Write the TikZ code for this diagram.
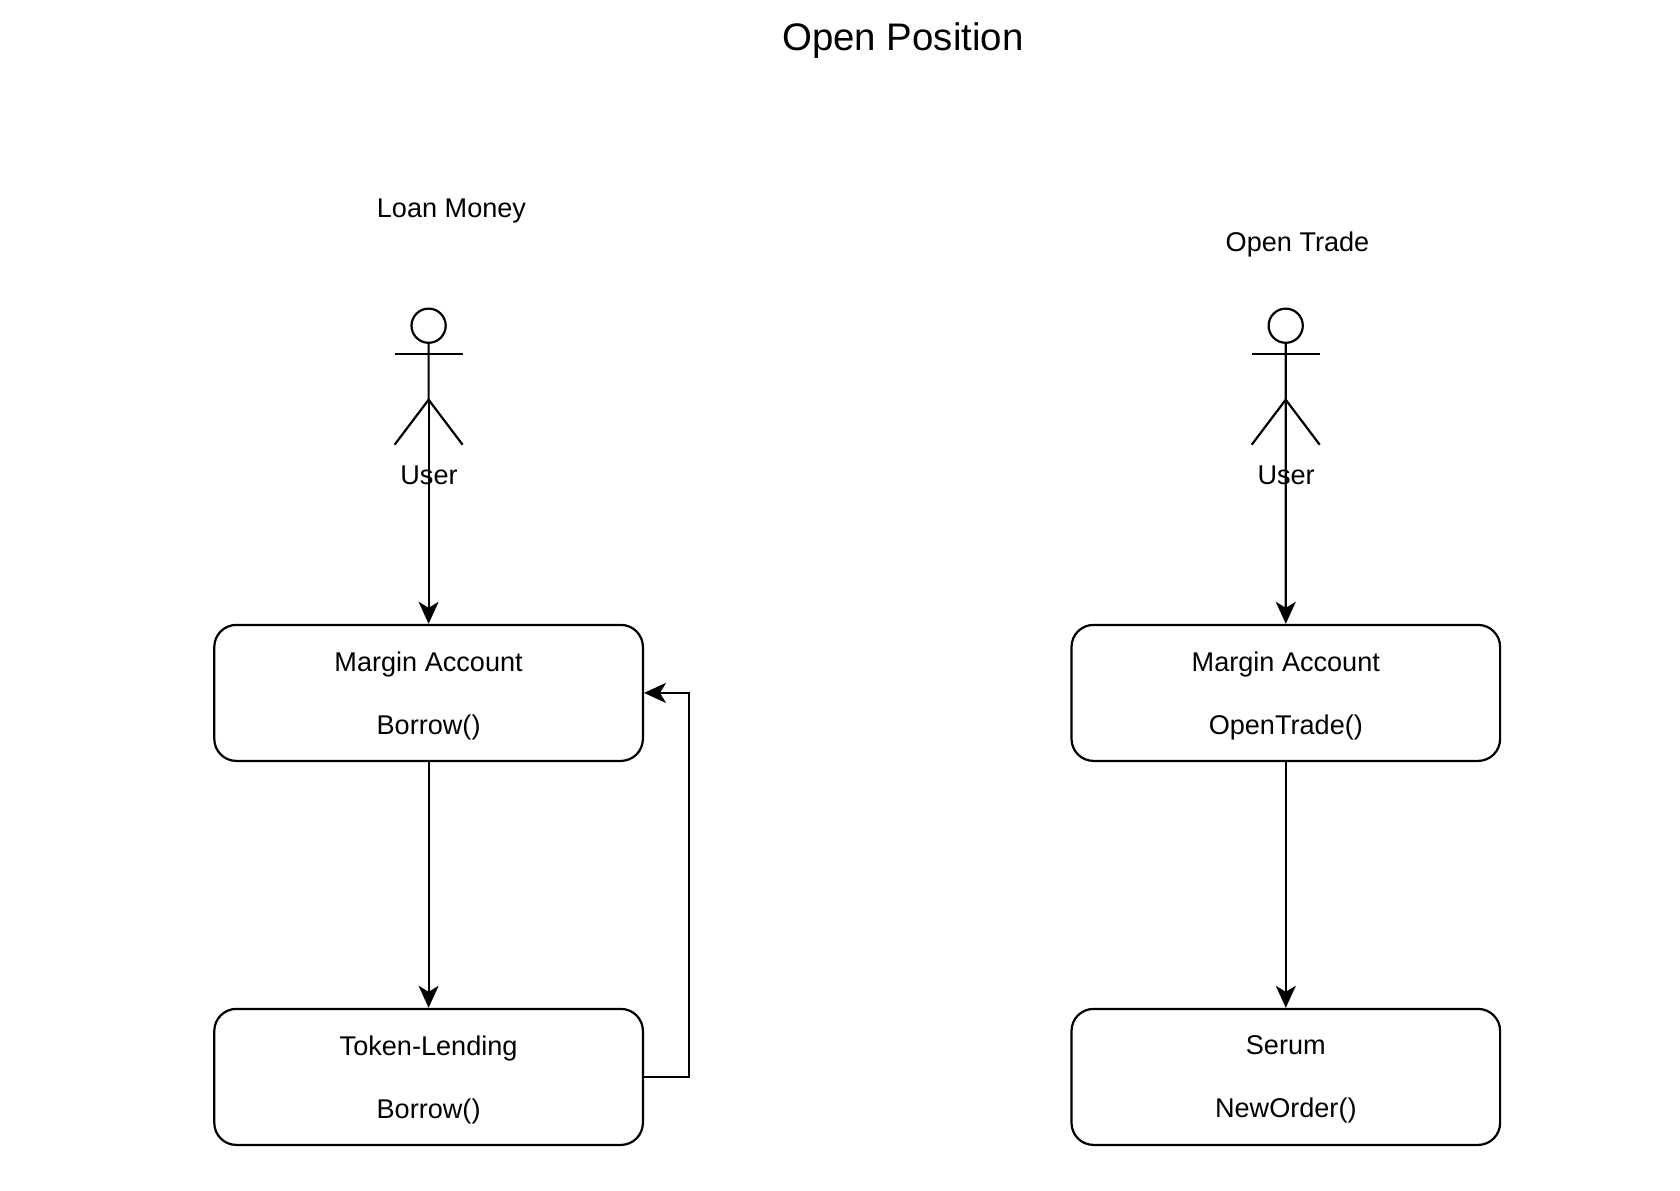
\documentclass[tikz,border=0pt]{standalone}
\usepackage{fontspec}
\setmainfont{Liberation Sans}
\usetikzlibrary{arrows.meta,positioning}

\begin{document}
\begin{tikzpicture}[x=0.5pt, y=-0.5pt, node distance=192pt, auto]
            \tikzstyle{block} = [rectangle, draw, line width=1.1pt, rounded corners=11pt, align=center, text depth=-1.6pt, minimum width=214.3pt, minimum height=68pt, font=\fontsize{13.55pt}{16pt}\selectfont]
            \tikzstyle{caption} = [font=\fontsize{13.55pt}{16pt}\selectfont, inner sep=0pt]
            \tikzstyle{head} = [circle, draw, line width=1.1pt, minimum size=17.1pt, inner sep=0pt]
            \tikzstyle{line} = [line width=1.1pt]
            \tikzstyle{arrow} = [line width=1.1pt, -{Stealth[length=11pt, width=10pt, inset=3pt]}]

            \useasboundingbox (0,0) rectangle (1680,1190);

            \node [font=\fontsize{19.2pt}{23pt}\selectfont, inner sep=0pt] (title) at (903,40.5) {Open Position};
            \node [caption] (loan) at (451.5,211) {Loan Money};
            \node [caption] (opentrade) at (1297.5,244) {Open Trade};

            \node [block] (margin) at (428.6,692.9) {Margin Account\\[15.6pt]Borrow()};
            \node [block, below of=margin] (lending) {Token-Lending\\[15.6pt]Borrow()};
            \node [block, right of=margin, node distance=428.6pt] (trade) {Margin Account\\[15.6pt]OpenTrade()};
            \node [block, below of=trade] (serum) {Serum\\[15.6pt]NewOrder()};

            % left user
            \node [head] (headloan) at (428.6,325.7) {};
            \draw [line] (headloan.south) -- ++(0,55.8) coordinate (hiploan) -- ++(-34,45);
            \draw [line] (hiploan) -- ++(34,45);
            \draw [line] (headloan.south) ++(-34,10) -- ++(68,0);
            \node [caption] (userloan) at (429,475.4) {User};

            % right user
            \node [head] (headtrade) at (1285.7,325.7) {};
            \draw [line] (headtrade.south) -- ++(0,55.8) coordinate (hiptrade) -- ++(-34,45);
            \draw [line] (hiptrade) -- ++(34,45);
            \draw [line] (headtrade.south) ++(-34,10) -- ++(68,0);
            \node [caption] (usertrade) at (1286.1,475.4) {User};

            \draw [arrow] (hiploan) -- (margin);
            \draw [arrow] (margin) -- (lending);
            \draw [arrow] (lending.east) -- ++(45,0) |- (margin.east);
            \draw [arrow] (hiptrade) -- (trade);
            \draw [arrow] (trade) -- (serum);
        \end{tikzpicture}
\end{document}
